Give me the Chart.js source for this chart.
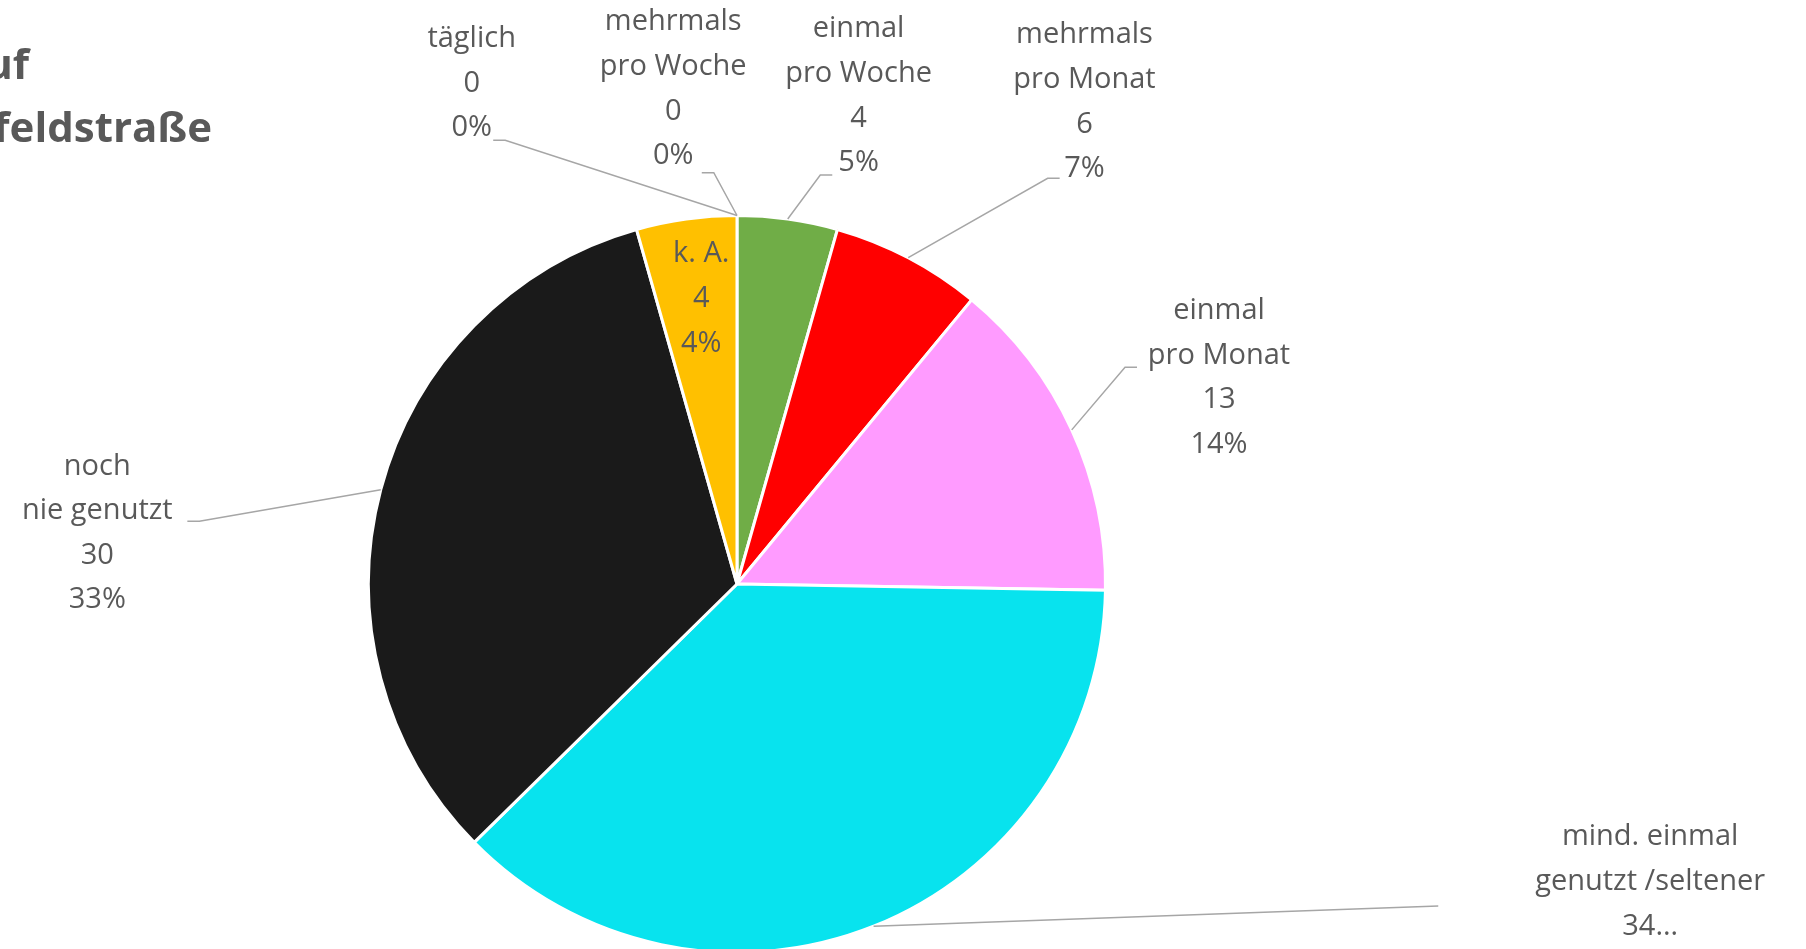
<!DOCTYPE html>
<html>
<head>
<meta charset="utf-8">
<script src="https://cdn.jsdelivr.net/npm/chart.js@4.4.0/dist/chart.umd.min.js"></script>
<style>
  html, body { margin: 0; padding: 0; background: #fff; overflow: hidden; }
  #wrap { position: relative; width: 1806px; height: 960px; }
</style>
</head>
<body>
<div id="wrap"><canvas id="chart"></canvas></div>
<script>
// Data
const categories = [
    ['täglich'],
    ['mehrmals', 'pro Woche'],
    ['einmal', 'pro Woche'],
    ['mehrmals', 'pro Monat'],
    ['einmal', 'pro Monat'],
    ['mind. einmal', 'genutzt /seltener'],
    ['noch', 'nie genutzt'],
    ['k. A.']
];
const values = [0, 0, 4, 6, 13, 34, 30, 4];
const percentLabels = ['0%', '0%', '5%', '7%', '14%', '37%', '33%', '4%'];
const sliceColors = ['#4472C4', '#ED7D31', '#70AD47', '#FF0000', '#FF9BFF', '#08E3EE', '#1A1A1A', '#FFC000'];
const titleLines = ['auf', 'feldstraße'];

// label placement, in units of the pie radius relative to its centre
// x/y = centre of the text block, ax/ay = end of the leader line, stub = elbow direction
const labelLayout = [
    { x: -0.720, y: -1.358, ax: -0.629, ay: -1.204, stub: -1 },
    { x: -0.173, y: -1.343, ax: -0.063, ay: -1.116, stub: -1 },
    { x: 0.330, y: -1.324, ax: 0.226, ay: -1.110, stub: 1 },
    { x: 0.943, y: -1.308, ax: 0.843, ay: -1.101, stub: 1 },
    { x: 1.308, y: -0.560, ax: 1.053, ay: -0.588, stub: 1 },
    { x: 2.478, y: 0.808, ax: 1.903, ay: 0.874, stub: 0, maxLines: 3 },
    { x: -1.736, y: -0.138, ax: -1.459, ay: -0.170, stub: -1 },
    { x: -0.097, y: -0.774, inside: true }
];

const FONT = '"Comic Sans MS", "Open Sans", sans-serif';
const TEXT_COLOR = '#595959';
const LABEL_SIZE = 29;
const LINE_HEIGHT = 44.6;

const pieLabels = {
    id: 'pieLabels',
    afterDraw(chart) {
        const ctx = chart.ctx;
        const meta = chart.getDatasetMeta(0);
        ctx.save();

        // title (partly outside the picture on the left)
        ctx.fillStyle = TEXT_COLOR;
        ctx.font = `bold 42px ${FONT}`;
        ctx.textAlign = 'right';
        ctx.textBaseline = 'alphabetic';
        ctx.fillText(titleLines[0], 29, 79);
        ctx.fillText(titleLines[1], 212, 142);

        ctx.font = `${LABEL_SIZE}px ${FONT}`;
        ctx.textAlign = 'center';
        ctx.textBaseline = 'middle';

        meta.data.forEach((arc, i) => {
            const { x, y, startAngle, endAngle, outerRadius } = arc.getProps(['x', 'y', 'startAngle', 'endAngle', 'outerRadius'], true);
            const r = outerRadius;
            const mid = (startAngle + endAngle) / 2;
            const lay = labelLayout[i];

            let lines = categories[i].concat([String(values[i]), percentLabels[i]]);
            if (lay.maxLines && lines.length > lay.maxLines) {
                lines = lines.slice(0, lay.maxLines);
                lines[lines.length - 1] += '…';
            }

            if (!lay.inside) {
                const sx = x + Math.cos(mid) * r;
                const sy = y + Math.sin(mid) * r;
                const ex = x + lay.ax * r;
                const ey = y + lay.ay * r;
                ctx.strokeStyle = '#A6A6A6';
                ctx.lineWidth = 1.5;
                ctx.beginPath();
                ctx.moveTo(sx, sy);
                ctx.lineTo(ex, ey);
                if (lay.stub) ctx.lineTo(ex + lay.stub * 12, ey);
                ctx.stroke();
            }

            const lx = x + lay.x * r;
            const ly = y + lay.y * r;
            const top = ly - (lines.length - 1) * LINE_HEIGHT / 2;
            ctx.fillStyle = TEXT_COLOR;
            lines.forEach((t, k) => ctx.fillText(t, lx, top + k * LINE_HEIGHT));
        });
        ctx.restore();
    }
};

new Chart(document.getElementById('chart'), {
    type: 'pie',
    data: {
        labels: categories.map(c => c.join(' ')),
        datasets: [{
            data: values,
            backgroundColor: sliceColors,
            borderColor: '#FFFFFF',
            borderWidth: 3
        }]
    },
    options: {
        responsive: true,
        maintainAspectRatio: false,
        animation: false,
        layout: { padding: { left: 367, right: 699, top: 214, bottom: 6 } },
        plugins: {
            legend: { display: false },
            tooltip: { enabled: false }
        }
    },
    plugins: [pieLabels]
});
</script>
</body>
</html>
